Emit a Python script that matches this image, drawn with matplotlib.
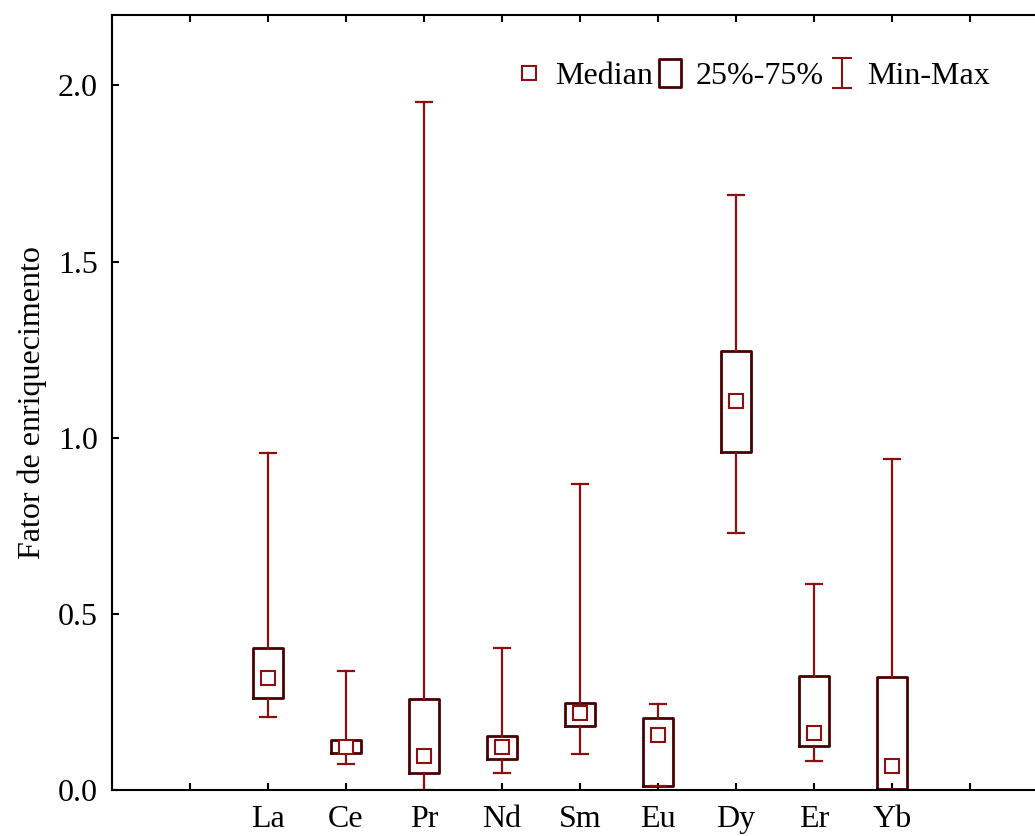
import numpy as np
import matplotlib
matplotlib.use("Agg")
import matplotlib.pyplot as plt
from matplotlib.lines import Line2D
from matplotlib.path import Path

plt.rcParams['font.family'] = ['Liberation Serif', 'DejaVu Serif']

elements = ['La', 'Ce', 'Pr', 'Nd', 'Sm', 'Eu', 'Dy', 'Er', 'Yb']
medians = [0.317, 0.123, 0.096, 0.123, 0.218, 0.156, 1.104, 0.163, 0.068]
q1 = [0.262, 0.106, 0.049, 0.088, 0.183, 0.012, 0.959, 0.124, 0.003]
q3 = [0.402, 0.142, 0.257, 0.153, 0.247, 0.205, 1.245, 0.323, 0.320]
mins = [0.206, 0.075, 0.0, 0.049, 0.103, 0.012, 0.730, 0.082, 0.0]
maxs = [0.958, 0.338, 1.952, 0.404, 0.868, 0.244, 1.689, 0.584, 0.939]

whisk_col = '#8c1010'
box_col = '#4a0000'

fig = plt.figure(figsize=(10.35, 8.36), dpi=100)
W, H = 1035, 836
ax = fig.add_axes([112 / W, (H - 790) / H, (1048 - 112) / W, (790 - 15) / H])

pos = np.arange(1, len(elements) + 1)
stats = []
for i in range(len(elements)):
    stats.append(dict(med=medians[i], q1=q1[i], q3=q3[i],
                      whislo=mins[i], whishi=maxs[i], fliers=[]))

ax.bxp(stats, positions=pos, widths=0.38, capwidths=0.2, showfliers=False,
       manage_ticks=False,
       boxprops=dict(color=box_col, linewidth=2.0),
       whiskerprops=dict(color=whisk_col, linewidth=1.6),
       capprops=dict(color=whisk_col, linewidth=1.6),
       medianprops=dict(linewidth=0))
ax.plot(pos, medians, linestyle='none', marker='s', markersize=9.5,
        markerfacecolor='white', markeredgecolor=whisk_col,
        markeredgewidth=1.5, zorder=5)

ax.set_xlim(-1, 11)
ax.set_ylim(0, 2.2)
ax.set_xticks(np.arange(0, 11))
ax.set_xticklabels([''] + elements + [''])
ax.set_yticks([0.0, 0.5, 1.0, 1.5, 2.0])
ax.set_yticklabels(['0.0', '0.5', '1.0', '1.5', '2.0'])
ax.tick_params(axis='both', direction='in', length=5, width=1.5,
               labelsize=23, top=True, right=False)
ax.tick_params(axis='y', pad=10)
ax.tick_params(axis='x', pad=11)
for s in ax.spines.values():
    s.set_linewidth(1.5)
ax.set_ylabel('Fator de enriquecimento', fontsize=23, labelpad=8)

# legend handles
box_path = Path([(-0.41, -0.5), (0.41, -0.5), (0.41, 0.5), (-0.41, 0.5), (-0.41, -0.5)],
                [Path.MOVETO, Path.LINETO, Path.LINETO, Path.LINETO, Path.CLOSEPOLY])
ibar_path = Path([(-0.34, 0.5), (0.34, 0.5), (0, 0.5), (0, -0.5), (-0.34, -0.5), (0.34, -0.5)],
                 [Path.MOVETO, Path.LINETO, Path.MOVETO, Path.LINETO, Path.MOVETO, Path.LINETO])
handles = [
    Line2D([], [], linestyle='none', marker='s', markersize=9.5, markerfacecolor='white',
           markeredgecolor=whisk_col, markeredgewidth=1.5),
    Line2D([], [], linestyle='none', marker=box_path, markersize=20, markerfacecolor='white',
           markeredgecolor=box_col, markeredgewidth=2.0),
    Line2D([], [], linestyle='none', marker=ibar_path, markersize=22, markerfacecolor='none',
           markeredgecolor=whisk_col, markeredgewidth=1.5),
]
ax.legend(handles, ['Median', '25%-75%', 'Min-Max'], ncol=3, frameon=False,
          fontsize=23, handlelength=0.9, handletextpad=0.35, columnspacing=0.1,
          loc='upper left', bbox_to_anchor=(403 / 936, 1 - 47 / 775),
          borderaxespad=0, borderpad=0)

fig.savefig('out.png', dpi=100)
